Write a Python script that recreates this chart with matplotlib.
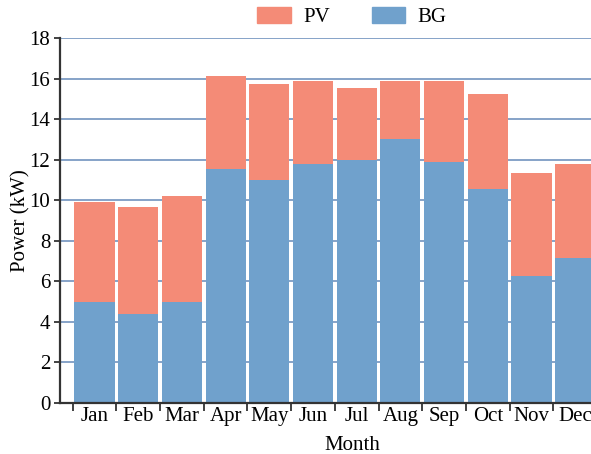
import matplotlib.pyplot as plt
import numpy as np
from matplotlib.patches import Patch

plt.rcParams["font.family"] = ["Liberation Serif", "DejaVu Serif"]

# Monthly power split (kW)
months = ["Jan", "Feb", "Mar", "Apr", "May", "Jun",
          "Jul", "Aug", "Sep", "Oct", "Nov", "Dec"]
bg = [5.0, 4.4, 5.0, 11.55, 11.0, 11.8, 12.0, 13.0, 11.9, 10.55, 6.25, 7.15]
pv = [4.9, 5.25, 5.2, 4.6, 4.75, 4.1, 3.55, 2.9, 4.0, 4.7, 5.1, 4.65]

pv_color = "#f48b77"
bg_color = "#70a1cc"

W, H = 591, 454
fig = plt.figure(figsize=(W / 100, H / 100), dpi=100)
# axes right edge runs a little past the picture, as in the reference
ax = fig.add_axes([60 / W, 1 - 403 / H, 537 / W, 365 / H])

x = np.arange(len(months))
ax.bar(x, bg, width=0.92, color=bg_color, zorder=2)
ax.bar(x, pv, width=0.92, bottom=bg, color=pv_color, zorder=2)

ax.set_xlim(-0.79, 11.5)
ax.set_ylim(0, 18)
ax.set_yticks(np.arange(0, 19, 2))
ax.yaxis.grid(True, color="#7d9cc4", lw=1.3, zorder=0)
ax.set_axisbelow(True)

ax.set_xticks(x)
ax.set_xticklabels(months)
ax.set_xticks(np.arange(-0.5, 12, 1), minor=True)
ax.tick_params(axis="x", which="major", length=0, labelsize=15, pad=3)
ax.tick_params(axis="x", which="minor", length=6, width=1.3, color="#333333")
ax.tick_params(axis="y", length=4, width=1.3, color="#333333", labelsize=15, pad=3)

for s in ["top", "right"]:
    ax.spines[s].set_visible(False)
for s in ["left", "bottom"]:
    ax.spines[s].set_linewidth(1.6)
    ax.spines[s].set_color("#333333")

ax.set_ylabel("Power (kW)", fontsize=15)
ax.yaxis.set_label_coords(-(60 - 30) / 537, 0.5)
ax.set_xlabel("Month", fontsize=15)
ax.xaxis.set_label_coords((352 - 60) / 537, -0.09)

handles = [Patch(color=pv_color, label="PV"), Patch(color=bg_color, label="BG")]
fig.legend(handles=handles, loc="center", bbox_to_anchor=(352 / W, 1 - 17 / H),
           ncol=2, frameon=False, fontsize=15, handlelength=1.6, handleheight=0.85,
           columnspacing=2.0, handletextpad=0.6)

fig.savefig("out.png", dpi=100)
